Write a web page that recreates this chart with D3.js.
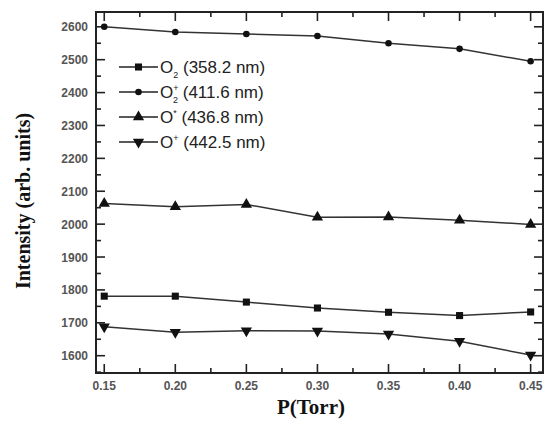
<!DOCTYPE html>
<html><head><meta charset="utf-8">
<script src="https://cdn.jsdelivr.net/npm/d3@7"></script>
<style>body{margin:0;background:#fff}svg{display:block}</style>
</head><body>
<script>
const pressures = [0.15, 0.20, 0.25, 0.30, 0.35, 0.40, 0.45];
const o2_358 = [1781, 1781, 1763, 1745, 1732, 1722, 1733];
const o2p_411 = [2600, 2584, 2578, 2572, 2550, 2533, 2495];
const o_436 = [2063, 2053, 2060, 2021, 2022, 2012, 1999];
const op_442 = [1688, 1671, 1676, 1675, 1666, 1644, 1602];
const xTicks = [0.15, 0.20, 0.25, 0.30, 0.35, 0.40, 0.45];
const yTicks = [1600, 1700, 1800, 1900, 2000, 2100, 2200, 2300, 2400, 2500, 2600];
const legendNames = [
  {base:"O", sub:"2", sup:"", rest:" (358.2 nm)"},
  {base:"O", sub:"2", sup:"+", rest:" (411.6 nm)"},
  {base:"O", sub:"", sup:"*", rest:" (436.8 nm)"},
  {base:"O", sub:"", sup:"+", rest:" (442.5 nm)"}
];

const W = 545, H = 421;
const L = 96, R = 543, T = 12, B = 373;
const svg = d3.select("body").append("svg").attr("width", W).attr("height", H);
const x = d3.scaleLinear().domain([0.1442, 0.4587]).range([L, R]);
const y = d3.scaleLinear().domain([1547.4, 2645]).range([B, T]);

const minorX = d3.range(0.175, 0.46, 0.05);
const minorY = d3.range(1550, 2640, 100);

// ticks (inward) on all four sides
const tk = svg.append("g").attr("stroke", "#222").attr("stroke-width", 1.6);
xTicks.forEach(v => {
  tk.append("line").attr("x1", x(v)).attr("x2", x(v)).attr("y1", B).attr("y2", B - 9);
  tk.append("line").attr("x1", x(v)).attr("x2", x(v)).attr("y1", T).attr("y2", T + 9);
});
minorX.forEach(v => {
  tk.append("line").attr("x1", x(v)).attr("x2", x(v)).attr("y1", B).attr("y2", B - 5);
  tk.append("line").attr("x1", x(v)).attr("x2", x(v)).attr("y1", T).attr("y2", T + 5);
});
yTicks.forEach(v => {
  tk.append("line").attr("x1", L).attr("x2", L + 9).attr("y1", y(v)).attr("y2", y(v));
  tk.append("line").attr("x1", R).attr("x2", R - 9).attr("y1", y(v)).attr("y2", y(v));
});
minorY.forEach(v => {
  tk.append("line").attr("x1", L).attr("x2", L + 5).attr("y1", y(v)).attr("y2", y(v));
  tk.append("line").attr("x1", R).attr("x2", R - 5).attr("y1", y(v)).attr("y2", y(v));
});

// frame
svg.append("rect").attr("x", L).attr("y", T).attr("width", R - L).attr("height", B - T)
  .attr("fill", "none").attr("stroke", "#222").attr("stroke-width", 2);

// tick labels
const lab = svg.append("g").attr("font-family", "Liberation Sans, Arial, sans-serif")
  .attr("font-size", 12).attr("font-weight", "bold").attr("fill", "#555");
xTicks.forEach(v => {
  lab.append("text").attr("x", x(v)).attr("y", B + 17).attr("text-anchor", "middle").text(v.toFixed(2));
});
yTicks.forEach(v => {
  lab.append("text").attr("x", L - 8).attr("y", y(v) + 4.5).attr("text-anchor", "end").text(v);
});

// axis titles
svg.append("text").attr("x", 311).attr("y", 414).attr("text-anchor", "middle")
  .attr("font-family", "Liberation Serif, Times New Roman, serif").attr("font-weight", "bold")
  .attr("font-size", 21).attr("fill", "#111").text("P(Torr)");
svg.append("text").attr("transform", "translate(30,201) rotate(-90)").attr("text-anchor", "middle")
  .attr("font-family", "Liberation Serif, Times New Roman, serif").attr("font-weight", "bold")
  .attr("font-size", 20).attr("fill", "#111").text("Intensity (arb. units)");

// series
const series = [
  {vals: o2_358, sym: d3.symbolSquare, size: 50, rot: 0},
  {vals: o2p_411, sym: d3.symbolCircle, size: 34, rot: 0},
  {vals: o_436, sym: d3.symbolTriangle, size: 55, rot: 0},
  {vals: op_442, sym: d3.symbolTriangle, size: 55, rot: 180}
];
const line = d3.line().x((d, i) => x(pressures[i])).y(d => y(d));
const g = svg.append("g");
series.forEach(s => {
  g.append("path").attr("d", line(s.vals)).attr("fill", "none")
    .attr("stroke", "#333").attr("stroke-width", 1.5);
  s.vals.forEach((v, i) => {
    g.append("path").attr("d", d3.symbol().type(s.sym).size(s.size)())
      .attr("transform", `translate(${x(pressures[i])},${y(v)}) rotate(${s.rot})`)
      .attr("fill", "#111");
  });
});

// legend
const legRows = [67, 92, 117, 142];
const lg = svg.append("g");
series.forEach((s, i) => {
  const yy = legRows[i];
  lg.append("line").attr("x1", 119).attr("x2", 158).attr("y1", yy).attr("y2", yy)
    .attr("stroke", "#222").attr("stroke-width", 1.6);
  lg.append("path").attr("d", d3.symbol().type(s.sym).size(s.size)())
    .attr("transform", `translate(138.5,${yy}) rotate(${s.rot})`).attr("fill", "#111");
  const t = lg.append("text").attr("x", 160).attr("y", yy + 6)
    .attr("font-family", "Liberation Sans, Arial, sans-serif").attr("font-size", 17).attr("fill", "#222");
  const n = legendNames[i];
  t.append("tspan").text(n.base);
  if (n.sup) {
    t.append("tspan").attr("font-size", 9).attr("dy", -7).text(n.sup);
    if (n.sub) {
      t.append("tspan").attr("font-size", 9).attr("dx", -5.5).attr("dy", 12).text(n.sub);
      t.append("tspan").attr("dy", -5).text(n.rest);
    } else {
      t.append("tspan").attr("dy", 7).text(n.rest);
    }
  } else if (n.sub) {
    t.append("tspan").attr("font-size", 9).attr("dy", 5).text(n.sub);
    t.append("tspan").attr("dy", -5).text(n.rest);
  } else {
    t.append("tspan").text(n.rest);
  }
});
</script>
</body></html>
